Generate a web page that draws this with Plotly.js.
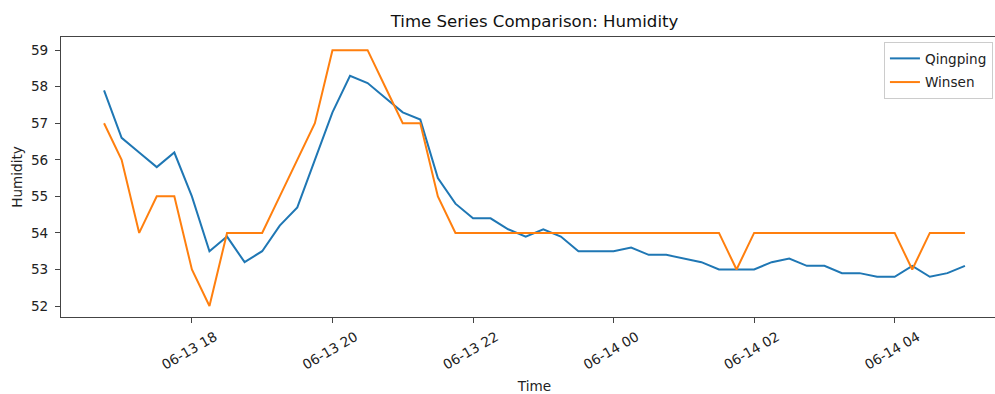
<!DOCTYPE html>
<html>
<head>
<meta charset="utf-8">
<script src="https://cdn.plot.ly/plotly-3.0.1.min.js"></script>
<style>
html, body { margin: 0; padding: 0; overflow: hidden; background: #fff; }
#chart { width: 1010px; height: 394px; }
</style>
</head>
<body>
<div id="chart"></div>
<script>
const times = [
  "2024-06-13 16:45","2024-06-13 17:00","2024-06-13 17:15","2024-06-13 17:30","2024-06-13 17:45",
  "2024-06-13 18:00","2024-06-13 18:15","2024-06-13 18:30","2024-06-13 18:45","2024-06-13 19:00",
  "2024-06-13 19:15","2024-06-13 19:30","2024-06-13 19:45","2024-06-13 20:00","2024-06-13 20:15",
  "2024-06-13 20:30","2024-06-13 20:45","2024-06-13 21:00","2024-06-13 21:15","2024-06-13 21:30",
  "2024-06-13 21:45","2024-06-13 22:00","2024-06-13 22:15","2024-06-13 22:30","2024-06-13 22:45",
  "2024-06-13 23:00","2024-06-13 23:15","2024-06-13 23:30","2024-06-13 23:45","2024-06-14 00:00",
  "2024-06-14 00:15","2024-06-14 00:30","2024-06-14 00:45","2024-06-14 01:00","2024-06-14 01:15",
  "2024-06-14 01:30","2024-06-14 01:45","2024-06-14 02:00","2024-06-14 02:15","2024-06-14 02:30",
  "2024-06-14 02:45","2024-06-14 03:00","2024-06-14 03:15","2024-06-14 03:30","2024-06-14 03:45",
  "2024-06-14 04:00","2024-06-14 04:15","2024-06-14 04:30","2024-06-14 04:45","2024-06-14 05:00"
];
const qingping = [
  57.9, 56.6, 56.2, 55.8, 56.2, 55.0, 53.5, 53.9, 53.2, 53.5,
  54.2, 54.7, 56.0, 57.3, 58.3, 58.1, 57.7, 57.3, 57.1, 55.5,
  54.8, 54.4, 54.4, 54.1, 53.9, 54.1, 53.9, 53.5, 53.5, 53.5,
  53.6, 53.4, 53.4, 53.3, 53.2, 53.0, 53.0, 53.0, 53.2, 53.3,
  53.1, 53.1, 52.9, 52.9, 52.8, 52.8, 53.1, 52.8, 52.9, 53.1
];
const winsen = [
  57, 56, 54, 55, 55, 53, 52, 54, 54, 54,
  55, 56, 57, 59, 59, 59, 58, 57, 57, 55,
  54, 54, 54, 54, 54, 54, 54, 54, 54, 54,
  54, 54, 54, 54, 54, 54, 53, 54, 54, 54,
  54, 54, 54, 54, 54, 54, 53, 54, 54, 54
];
const tickVals = ["2024-06-13 18:00","2024-06-13 20:00","2024-06-13 22:00","2024-06-14 00:00","2024-06-14 02:00","2024-06-14 04:00"];
const tickText = ["06-13 18","06-13 20","06-13 22","06-14 00","06-14 02","06-14 04"];
const yTicks = [52, 53, 54, 55, 56, 57, 58, 59];

const font = "DejaVu Sans, sans-serif";
const fs = 13.6;
const traces = [
  {x: times, y: qingping, name: "Qingping", type: "scatter", mode: "lines",
   line: {color: "#1f77b4", width: 2}, legendgroup: "a"},
  {x: times, y: winsen, name: "Winsen", type: "scatter", mode: "lines",
   line: {color: "#ff7f0e", width: 2}, legendgroup: "b"}
];
const layout = {
  width: 1010, height: 394,
  margin: {l: 61, r: 2, t: 37, b: 77},
  paper_bgcolor: "#fff", plot_bgcolor: "#fff",
  font: {family: font, size: fs, color: "#222"},
  title: {text: "Time Series Comparison: Humidity", font: {family: font, size: 16.6, color: "#111"},
          x: 0.5, xref: "paper", y: 1 - 21.5/394, yref: "container", yanchor: "middle"},
  xaxis: {
    type: "date", range: ["2024-06-13 16:08:15", "2024-06-14 05:36:45"],
    tickmode: "array", tickvals: tickVals, ticktext: tickText, tickangle: -30,
    ticks: "outside", ticklen: 5, tickcolor: "#444", tickwidth: 1,
    ticklabelshift: 23, ticklabelstandoff: 1,
    tickfont: {family: font, size: fs, color: "#222"},
    showgrid: false, zeroline: false, showline: true, linecolor: "#444", linewidth: 1, mirror: true,
    title: {text: "Time", font: {family: font, size: fs, color: "#222"}, standoff: 10},
    automargin: false
  },
  yaxis: {
    range: [51.70, 59.36], tickmode: "array", tickvals: yTicks,
    ticks: "outside", ticklen: 5, tickcolor: "#444", tickwidth: 1,
    ticklabelstandoff: 4,
    tickfont: {family: font, size: fs, color: "#222"},
    showgrid: false, zeroline: false, showline: true, linecolor: "#444", linewidth: 1, mirror: true,
    title: {text: "Humidity", font: {family: font, size: fs, color: "#222"}, standoff: 5},
    automargin: false
  },
  showlegend: true,
  legend: {
    x: 0.869, xanchor: "left", y: 0.982, yanchor: "top",
    bgcolor: "rgba(255,255,255,0.85)", bordercolor: "#ccc", borderwidth: 1,
    font: {family: font, size: fs, color: "#222"},
    traceorder: "grouped", tracegroupgap: 3
  }
};
Plotly.newPlot("chart", traces, layout, {staticPlot: true, displayModeBar: false});
</script>
</body>
</html>
